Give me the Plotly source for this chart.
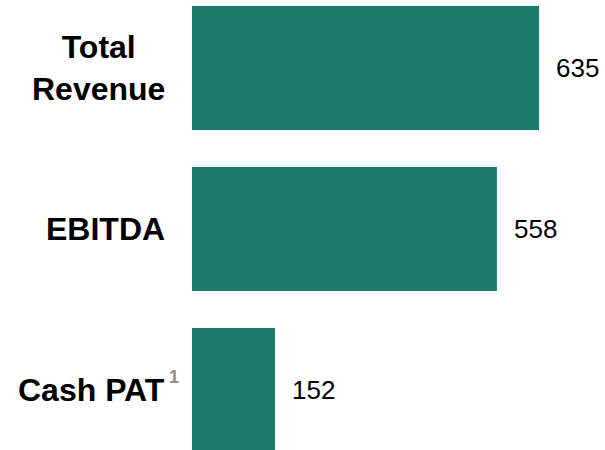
import plotly.graph_objects as go

# data
categories = ["Total Revenue", "EBITDA", "Cash PAT"]
label_texts = ["Total<br>Revenue", "EBITDA", "Cash PAT"]
footnotes = ["", "", "1"]
values = [635, 558, 152]

BAR_COLOR = "#1c7a6a"
FONT = "Arial, Liberation Sans, sans-serif"

fig = go.Figure(
    go.Bar(
        x=values,
        y=categories,
        orientation="h",
        marker=dict(color=BAR_COLOR, line=dict(width=0)),
        width=0.77,
        hoverinfo="skip",
    )
)

annotations = []
for cat, label, note, val in zip(categories, label_texts, footnotes, values):
    # category label on the left
    annotations.append(
        dict(
            x=0, y=cat, xref="paper", yref="y",
            text=f"<b>{label}</b>",
            showarrow=False, xanchor="right", yanchor="middle", align="center",
            xshift=-25,
            font=dict(family=FONT, size=32, color="#000000"),
        )
    )
    if note:
        # grey footnote marker
        annotations.append(
            dict(
                x=0, y=cat, xref="paper", yref="y",
                text=f"<b>{note}</b>",
                showarrow=False, xanchor="center", yanchor="middle",
                xshift=-18, yshift=13,
                font=dict(family=FONT, size=18, color="#8c8c8c"),
            )
        )
    # value label right of the bar
    annotations.append(
        dict(
            x=val, y=cat, xref="x", yref="y",
            text=str(val),
            showarrow=False, xanchor="left", yanchor="middle",
            xshift=15,
            font=dict(family=FONT, size=26, color="#000000"),
        )
    )

fig.update_layout(
    width=605,
    height=450,
    margin=dict(l=192, r=0, t=0, b=0),
    paper_bgcolor="white",
    plot_bgcolor="white",
    showlegend=False,
    annotations=annotations,
    xaxis=dict(range=[0, 755.7], visible=False, fixedrange=True),
    yaxis=dict(range=[2.3727, -0.4224], visible=False, fixedrange=True),
)

fig.write_html(
    "out.html",
    config={"displayModeBar": False},
    post_script="document.body.style.margin='0';document.body.style.overflow='hidden';",
)
